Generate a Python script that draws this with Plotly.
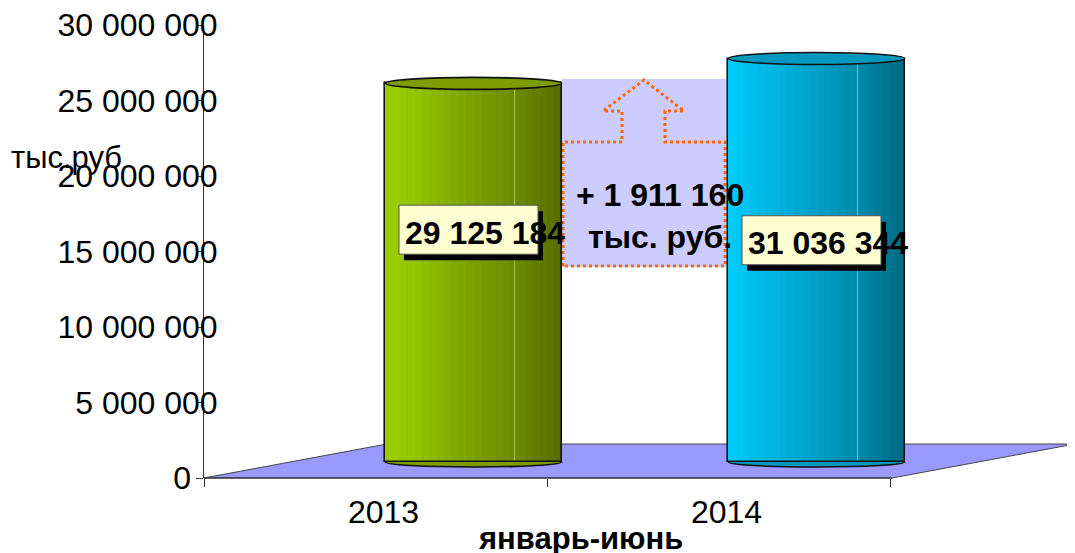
import plotly.graph_objects as go

# ---------------- data ----------------
categories = ["2013", "2014"]
values = [29125184, 31036344]
y_tick_values = [0, 5000000, 10000000, 15000000, 20000000, 25000000, 30000000]
y_title = "тыс.руб"
x_title = "январь-июнь"
diff_unit = "тыс. руб."

# ---------------- layout helpers (reference pixel coords) ----------------
OX, OY = 8, 8                      # page body margin of the browser
W, H = 1075 - OX, 553 - OY
PLOT_L, PLOT_R, PLOT_T, PLOT_B = 204, 1075, 25, 478
ML, MR = PLOT_L - OX, (1075 - PLOT_R)
MT, MB = PLOT_T - OY, 553 - PLOT_B
PW, PH = PLOT_R - PLOT_L, PLOT_B - PLOT_T


def px(x):
    return (x - PLOT_L) / PW


def py(y):
    return (PLOT_B - y) / PH


def fmt(v):
    return f"{v:,}".replace(",", " ")


def tick_text(v):
    s = fmt(v)
    # labels are start-anchored in the original, so short ones sit further left
    return s + "\u00a0" * 3 if len(s) == 1 else s


FONT = "Liberation Sans, Arial, sans-serif"
FS = 31

BAR_W = 0.514
N_STRIPES = 24
GREEN_STOPS = [(0.0, (0x9A, 0xCE, 0x00)), (0.08, (0x99, 0xCC, 0x00)), (0.5, (0x7B, 0xA0, 0x00)),
               (0.75, (0x6A, 0x8A, 0x00)), (1.0, (0x55, 0x6C, 0x00))]
CYAN_STOPS = [(0.0, (0x00, 0xCC, 0xFF)), (0.08, (0x00, 0xC4, 0xF2)), (0.5, (0x00, 0xA0, 0xC8)),
              (0.75, (0x00, 0x88, 0xA8)), (1.0, (0x00, 0x6A, 0x82))]
BAR_STOPS = [GREEN_STOPS, CYAN_STOPS]
TOP_COLORS = ["#7C9C00", "#0098BE"]
BOTTOM_COLORS = ["#7A9C00", "#0098BE"]


def lerp(stops, t):
    for (t0, c0), (t1, c1) in zip(stops[:-1], stops[1:]):
        if t0 <= t <= t1:
            f = (t - t0) / (t1 - t0) if t1 > t0 else 0
            c = [round(a + (b - a) * f) for a, b in zip(c0, c1)]
            return "rgb({},{},{})".format(*c)
    c = stops[-1][1]
    return "rgb({},{},{})".format(*c)


fig = go.Figure()

# invisible trace to keep the front (visible) axes alive
fig.add_trace(go.Scatter(x=list(range(len(categories))), y=values, mode="none",
                         showlegend=False, hoverinfo="skip"))

# cylinder body as gradient stripes
sw = BAR_W / N_STRIPES
for k in range(N_STRIPES):
    t = (k + 0.5) / N_STRIPES
    fig.add_trace(go.Bar(
        x=categories, y=values, xaxis="x2", yaxis="y2",
        width=sw * 1.04, offset=-BAR_W / 2 + k * sw,
        marker=dict(color=[lerp(s, t) for s in BAR_STOPS], line=dict(width=0)),
        showlegend=False, hoverinfo="skip",
    ))
# highlight line on the bars
fig.add_trace(go.Bar(
    x=categories, y=values, xaxis="x2", yaxis="y2",
    width=0.004, offset=BAR_W * 0.23,
    marker=dict(color="rgba(220,235,170,0.55)", line=dict(width=0)),
    showlegend=False, hoverinfo="skip",
))
# outline
fig.add_trace(go.Bar(
    x=categories, y=values, xaxis="x2", yaxis="y2",
    width=BAR_W, offset=-BAR_W / 2,
    marker=dict(color="rgba(0,0,0,0)", line=dict(color="#111", width=1.6)),
    showlegend=False, hoverinfo="text",
    hovertext=[fmt(v) for v in values],
))

shapes = []
# floor (3D plane)
floor_pts = [(204, 478), (892, 478), (1075, 444), (387, 444)]
path = "M " + " L ".join(f"{px(x)},{py(y)}" for x, y in floor_pts) + " Z"
shapes.append(dict(type="path", xref="paper", yref="paper", path=path,
                   fillcolor="#9999FF", line=dict(color="#444", width=1), layer="below"))
shapes.append(dict(type="line", xref="paper", yref="paper", x0=px(204), y0=py(478), x1=px(892), y1=py(478),
                   line=dict(color="#222", width=1.2), layer="below"))

# cylinder bottoms (below bars)
for i, v in enumerate(values):
    shapes.append(dict(type="circle", xref="x2", yref="y2", x0=i - BAR_W / 2, x1=i + BAR_W / 2,
                       ysizemode="pixel", yanchor=0, y0=-5, y1=5,
                       fillcolor=BOTTOM_COLORS[i], line=dict(color="#111", width=1.6), layer="below"))

# difference callout (background box + arrow)
shapes.append(dict(type="rect", xref="paper", yref="paper", x0=px(562), x1=px(726), y0=py(267), y1=py(79),
                   fillcolor="#CCCCFF", line=dict(width=0), layer="below"))
arrow_pts = [(563, 266), (563, 142), (622, 142), (622, 111), (603, 111), (644, 80), (684, 111),
             (665, 111), (665, 142), (725, 142), (725, 266)]
apath = "M " + " L ".join(f"{px(x)},{py(y)}" for x, y in arrow_pts) + " Z"
shapes.append(dict(type="path", xref="paper", yref="paper", path=apath, fillcolor="rgba(0,0,0,0)",
                   line=dict(color="#FF6600", width=3, dash="dot"), layer="below"))

# cylinder tops
for i, v in enumerate(values):
    shapes.append(dict(type="circle", xref="x2", yref="y2", x0=i - BAR_W / 2, x1=i + BAR_W / 2,
                       ysizemode="pixel", yanchor=v, y0=-6, y1=6,
                       fillcolor=TOP_COLORS[i], line=dict(color="#111", width=1.6)))

# data label boxes with shadows
LABEL_UP = [43, 20]       # px above bar middle
BOX_DX, BOX_W, BOX_H = -5, 139, 49
for i, v in enumerate(values):
    up = LABEL_UP[i]
    shapes.append(dict(type="rect", xref="x2", yref="y2", xsizemode="pixel", ysizemode="pixel",
                       xanchor=i, yanchor=v / 2,
                       x0=BOX_DX - BOX_W / 2 + 5, x1=BOX_DX + BOX_W / 2 + 5,
                       y0=up - BOX_H / 2 - 6, y1=up + BOX_H / 2 - 6,
                       fillcolor="#000", line=dict(width=0)))
    shapes.append(dict(type="rect", xref="x2", yref="y2", xsizemode="pixel", ysizemode="pixel",
                       xanchor=i, yanchor=v / 2,
                       x0=BOX_DX - BOX_W / 2, x1=BOX_DX + BOX_W / 2,
                       y0=up - BOX_H / 2, y1=up + BOX_H / 2,
                       fillcolor="#FFFFD2", line=dict(color="#555", width=1)))

annotations = []
for i, v in enumerate(values):
    annotations.append(dict(xref="x2", yref="y2", x=i, y=v / 2, xshift=11, yshift=LABEL_UP[i] - 3,
                            text=f"<b>{fmt(v)}</b>", showarrow=False,
                            font=dict(family=FONT, size=FS + 1, color="#000"),
                            xanchor="center", yanchor="middle"))

diff = values[1] - values[0]
annotations.append(dict(xref="paper", yref="paper", x=px(660), y=py(216),
                        text=f"<b>+ {fmt(diff)}<br>{diff_unit}</b>", showarrow=False,
                        font=dict(family=FONT, size=FS + 1, color="#000"),
                        xanchor="center", yanchor="middle"))
annotations.append(dict(xref="paper", yref="paper", x=px(9), y=py(157), text=y_title, showarrow=False,
                        font=dict(family=FONT, size=FS, color="#000"), xanchor="left", yanchor="middle"))
annotations.append(dict(xref="paper", yref="paper", x=px(580), y=py(538), text=f"<b>{x_title}</b>",
                        showarrow=False, font=dict(family=FONT, size=FS, color="#000"),
                        xanchor="center", yanchor="middle"))

# front axis: boundaries at -0.5, 0.5, 1.5 -> 204, 547, 892 px
unit = (547 - 204)
x_range = [-0.5, -0.5 + PW / unit]
shift = (473.5 - 375.5) / unit
x2_range = [x_range[0] - shift, x_range[1] - shift]

# bar axis: zero at 462 px, 13 px per million
zero_px, ppm = 462, 13.0
y2_range = [-(PLOT_B - zero_px) / ppm * 1e6, (zero_px - PLOT_T) / ppm * 1e6]

y_top = max(y_tick_values)
fig.update_layout(
    width=W, height=H, autosize=False,
    margin=dict(l=ML, r=MR, t=MT, b=MB, pad=0),
    paper_bgcolor="white", plot_bgcolor="white",
    barmode="overlay", bargap=0,
    showlegend=False,
    font=dict(family=FONT, size=FS, color="#000"),
    xaxis=dict(range=x_range, tickvals=list(range(len(categories))), ticktext=categories,
               ticks="", showline=False, showgrid=False, zeroline=False,
               ticklabelshift=8, ticklabelstandoff=12,
               tickfont=dict(family=FONT, size=FS + 1),
               minor=dict(tickmode="array", tickvals=[-0.5, 0.5, 1.5], ticks="outside",
                          ticklen=8, tickcolor="#333", tickwidth=1, showgrid=False),
               automargin=False, fixedrange=True),
    yaxis=dict(range=[0, y_top * 1.0005], tickvals=y_tick_values,
               ticktext=[tick_text(v) for v in y_tick_values],
               ticks="outside", ticklen=7, tickcolor="#333", showline=True, linecolor="#333",
               linewidth=1, showgrid=False, zeroline=False, ticklabelstandoff=-28,
               ticklabeloverflow="allow",
               tickfont=dict(family=FONT, size=FS + 1), automargin=False, fixedrange=True),
    xaxis2=dict(type="category", categoryorder="array", categoryarray=categories, range=x2_range,
                overlaying="x", visible=False, fixedrange=True),
    yaxis2=dict(range=y2_range, overlaying="y", visible=False, fixedrange=True),
    shapes=shapes,
    annotations=annotations,
)

fig.write_html("out.html")
